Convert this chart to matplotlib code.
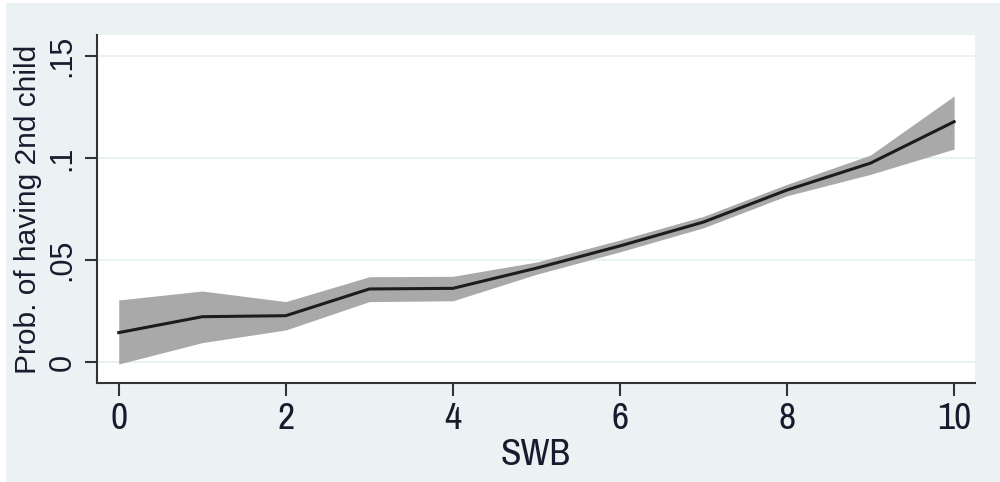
import matplotlib
matplotlib.use("Agg")
import matplotlib.pyplot as plt
from matplotlib.patches import Rectangle

# predicted probability by SWB with 95% CI
swb = [0, 1, 2, 3, 4, 5, 6, 7, 8, 9, 10]
prob = [0.0144, 0.0222, 0.0227, 0.0358, 0.0361, 0.0460, 0.0569, 0.0686, 0.0843, 0.0975, 0.1178]
ci_low = [-0.0010, 0.0095, 0.0157, 0.0296, 0.0300, 0.0430, 0.0540, 0.0658, 0.0815, 0.0920, 0.1044]
ci_high = [0.0304, 0.0348, 0.0296, 0.0418, 0.0420, 0.0490, 0.0598, 0.0714, 0.0871, 0.1015, 0.1304]

xticks = [0, 2, 4, 6, 8, 10]
yticks = [0, 0.05, 0.1, 0.15]
ytick_labels = ["0", ".05", ".1", ".15"]

NARROW = ["Liberation Sans Narrow", "Archivo Narrow", "Liberation Sans", "DejaVu Sans"]
REGULAR = ["Liberation Sans", "DejaVu Sans"]
BG = "#eaf2f3"
TXT = "#1a1a2e"
W, H = 1000, 482

fig = plt.figure(figsize=(W / 100, H / 100), dpi=100, facecolor="white")
fig.patches.append(Rectangle((6 / W, 0), 1, 1 - 3 / H, transform=fig.transFigure,
                             facecolor=BG, edgecolor="none", zorder=-10))

ax = fig.add_axes([97 / W, 1 - 383 / H, (975 - 97) / W, (383 - 35) / H])
ax.set_facecolor("white")

ax.fill_between(swb, ci_low, ci_high, color="#a9a9a9", linewidth=0, zorder=2)
ax.plot(swb, prob, color="#1c1c1c", linewidth=2.2, zorder=3)

ax.set_xlim(-0.26, 10.25)
ax.set_ylim(-0.0103, 0.1603)

for y in yticks:
    ax.axhline(y, color="#e6f0f2", linewidth=1.2, zorder=1)

for s in ["top", "right"]:
    ax.spines[s].set_visible(False)
for s in ["left", "bottom"]:
    ax.spines[s].set_color("#333333")
    ax.spines[s].set_linewidth(1.5)

ax.set_xticks(xticks)
ax.set_xticklabels([str(v) for v in xticks], family=NARROW, fontsize=27, color=TXT)
ax.set_yticks(yticks)
ax.set_yticklabels(ytick_labels, family=REGULAR, fontsize=22,
                   color=TXT, rotation=90, va="center")
ax.tick_params(axis="both", direction="out", length=9, width=1.5, color="#333333")
ax.tick_params(axis="x", pad=5)
ax.tick_params(axis="y", pad=5)

ax.set_xlabel("SWB", family=NARROW, fontsize=27, color=TXT, labelpad=2)
ax.set_ylabel("Prob. of having 2nd child", family=REGULAR, fontsize=21.5,
              color=TXT, labelpad=4)

fig.savefig("out.png", dpi=100, facecolor=fig.get_facecolor())
